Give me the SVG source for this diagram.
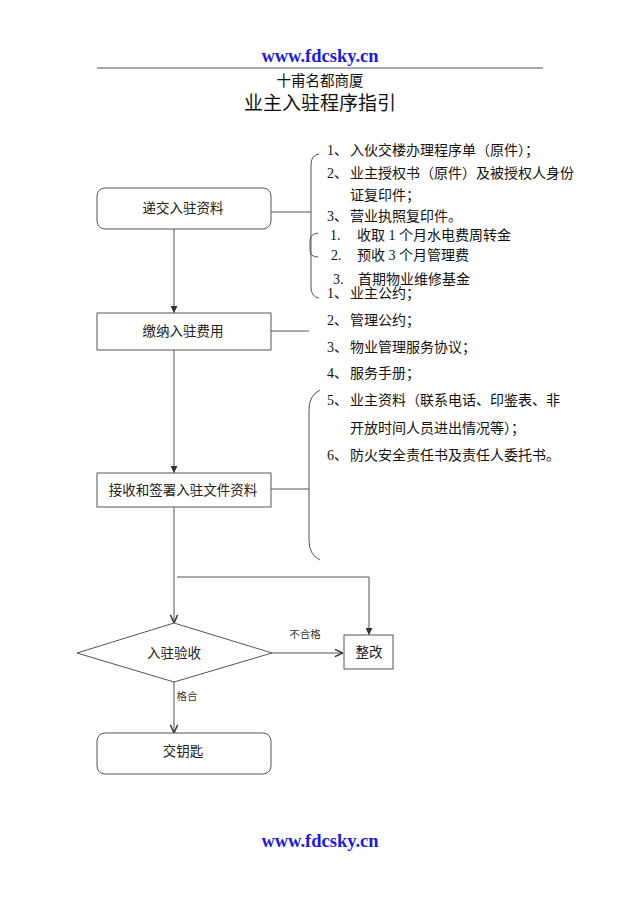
<svg xmlns="http://www.w3.org/2000/svg" width="640" height="905" viewBox="0 0 640 905">
<defs>
<style>
.url{font-family:"Liberation Serif","Times New Roman",serif;font-weight:bold;font-size:18.5px;fill:#1a1ae6}
.hd{font-family:"Liberation Sans","Noto Sans CJK SC",sans-serif;fill:#111}
.it{font-family:"Liberation Serif","Noto Sans CJK SC",serif;font-size:14px;fill:#111}
.nd{font-family:"Liberation Sans","Noto Sans CJK SC",sans-serif;font-size:13.5px;fill:#222;text-anchor:middle}
.lb{font-family:"Liberation Sans","Noto Sans CJK SC",sans-serif;font-size:10.5px;fill:#333;text-anchor:middle}
.box{fill:#fff;stroke:#555;stroke-width:1}
.ln{fill:none;stroke:#555;stroke-width:1}
</style>
<marker id="fa" viewBox="0 0 10 10" refX="10" refY="5" markerWidth="7" markerHeight="7" orient="auto" markerUnits="userSpaceOnUse"><path d="M0,0 L10,5 L0,10 z" fill="#333"/></marker>
<marker id="va" viewBox="0 0 10 10" refX="10" refY="5" markerWidth="9" markerHeight="9" orient="auto" markerUnits="userSpaceOnUse"><path d="M1,1 L10,5 L1,9" fill="none" stroke="#333" stroke-width="1.6"/></marker>
</defs>
<rect width="640" height="905" fill="#fff"/>
<g id="header">
<text class="url" x="320" y="62" text-anchor="middle">www.fdcsky.cn</text>
<line x1="97" y1="68" x2="543" y2="68" stroke="#555" stroke-width="1.2"/>
<text class="hd" x="320" y="86" text-anchor="middle" font-size="14.5">十甫名都商厦</text>
<text class="hd" x="320" y="110" text-anchor="middle" font-size="19">业主入驻程序指引</text>
</g>
<g id="connectors">
<line class="ln" x1="174" y1="229" x2="174" y2="313" marker-end="url(#fa)"/>
<line class="ln" x1="174" y1="350" x2="174" y2="473" marker-end="url(#fa)"/>
<line class="ln" x1="174" y1="507" x2="174" y2="623" marker-end="url(#va)"/>
<polyline class="ln" points="177,577 369,577 369,635" marker-end="url(#fa)"/>
<line class="ln" x1="272" y1="653" x2="343" y2="653" marker-end="url(#va)"/>
<line class="ln" x1="174" y1="682" x2="174" y2="733" marker-end="url(#va)"/>
<line class="ln" x1="271" y1="212" x2="311" y2="212"/>
<line class="ln" x1="271" y1="331" x2="309" y2="331"/>
<line class="ln" x1="271" y1="489" x2="309" y2="489"/>
<path class="ln" d="M319,154 Q311,155 311,165 L311,287 Q311,297 319,298"/>
<path class="ln" d="M318,233 Q310,234 310,241 L310,250 Q310,257 318,257"/>
<path class="ln" d="M320,390 Q309,395 309,410 L309,540 Q309,555 320,560"/>
<text class="lb" x="305" y="638">不合格</text>
<text class="lb" x="187" y="700">格合</text>
</g>
<g id="n1"><rect class="box" x="97" y="188" width="174" height="41" rx="8"/><text class="nd" x="183" y="213">递交入驻资料</text></g>
<g id="n2"><rect class="box" x="97" y="313" width="174" height="37"/><text class="nd" x="183" y="336">缴纳入驻费用</text></g>
<g id="n3"><rect class="box" x="97" y="473" width="174" height="34"/><text class="nd" x="183" y="495">接收和签署入驻文件资料</text></g>
<g id="n4"><polygon class="box" points="77,653 174,623 272,653 174,682"/><text class="nd" x="174" y="658" font-size="15">入驻验收</text></g>
<g id="n5"><rect class="box" x="344" y="635" width="49" height="34"/><text class="nd" x="369" y="657" font-size="14.5">整改</text></g>
<g id="n6"><rect class="box" x="97" y="733" width="174" height="41" rx="8"/><text class="nd" x="183" y="756" font-size="14.5">交钥匙</text></g>
<g id="items">
<text class="it" y="155"><tspan x="327">1、</tspan><tspan x="350">入伙交楼办理程序单（原件）；</tspan></text>
<text class="it" y="178"><tspan x="327">2、</tspan><tspan x="350">业主授权书（原件）及被授权人身份</tspan></text>
<text class="it" x="350" y="200">证复印件；</text>
<text class="it" y="221"><tspan x="327">3、</tspan><tspan x="350">营业执照复印件。</tspan></text>
<text class="it" y="240"><tspan x="330">1.</tspan><tspan x="357">收取 1 个月水电费周转金</tspan></text>
<text class="it" y="260"><tspan x="331">2.</tspan><tspan x="357">预收 3 个月管理费</tspan></text>
<text class="it" y="284"><tspan x="333">3.</tspan><tspan x="358">首期物业维修基金</tspan></text>
<text class="it" y="298"><tspan x="327">1、</tspan><tspan x="350">业主公约；</tspan></text>
<text class="it" y="325"><tspan x="327">2、</tspan><tspan x="350">管理公约；</tspan></text>
<text class="it" y="352"><tspan x="327">3、</tspan><tspan x="350">物业管理服务协议；</tspan></text>
<text class="it" y="378"><tspan x="327">4、</tspan><tspan x="350">服务手册；</tspan></text>
<text class="it" y="405"><tspan x="327">5、</tspan><tspan x="350">业主资料（联系电话、印鉴表、非</tspan></text>
<text class="it" x="350" y="433">开放时间人员进出情况等）；</text>
<text class="it" y="460"><tspan x="327">6、</tspan><tspan x="350">防火安全责任书及责任人委托书。</tspan></text>
</g>
<g id="footer"><text class="url" x="320" y="847" text-anchor="middle">www.fdcsky.cn</text></g>
</svg>
